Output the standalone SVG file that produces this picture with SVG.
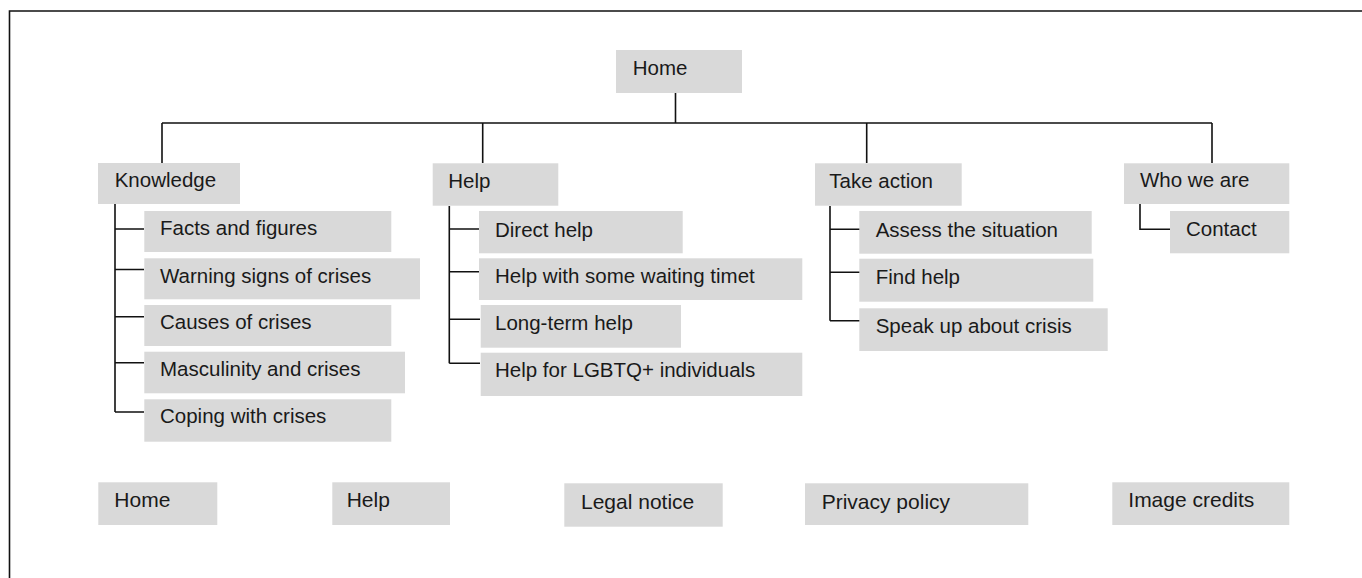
<svg xmlns="http://www.w3.org/2000/svg" width="1362" height="578" viewBox="0 0 1362 578">
<style>
.box{fill:#d9d9d9}
text{font-family:"Liberation Sans",Arial,sans-serif;font-size:20.5px;fill:#1a1a1a}
.ft{font-size:21px}
.ln{stroke:#111;stroke-width:1.6;fill:none}
</style>
<rect width="1362" height="578" fill="#fff"/>
<path class="ln" d="M9.5 578V11H1362"/>
<g id="connectors">
<path class="ln" d="M675.5 93V123M162 123H1212M162 123V163M482.7 123V163M866.7 123V163M1212 123V163"/>
<path class="ln" d="M115 204V412M115 229H144M115 269.5H144M115 316.7H144M115 362.7H144M115 412H144"/>
<path class="ln" d="M449.3 206V363.3M449.3 229H480M449.3 271.7H480M449.3 319.3H480M449.3 363.3H480"/>
<path class="ln" d="M830 206V320.7M830 229.3H860M830 272.3H860M830 320.7H860"/>
<path class="ln" d="M1140 204V229.3H1170"/>
</g>
<g id="home"><rect class="box" x="616" y="50" width="126" height="43"/><text x="632.7" y="75">Home</text></g>
<g id="knowledge"><rect class="box" x="98" y="163" width="142" height="41"/><text x="114.7" y="187">Knowledge</text></g>
<g id="facts"><rect class="box" x="144.3" y="211" width="247" height="41"/><text x="160" y="235">Facts and figures</text></g>
<g id="warning"><rect class="box" x="144.3" y="258.3" width="275.7" height="41"/><text x="160" y="282.7">Warning signs of crises</text></g>
<g id="causes"><rect class="box" x="144.3" y="305" width="247" height="41"/><text x="160" y="328.5">Causes of crises</text></g>
<g id="masculinity"><rect class="box" x="144.3" y="351.7" width="260.7" height="41.6"/><text x="160" y="376">Masculinity and crises</text></g>
<g id="coping"><rect class="box" x="144.3" y="399.3" width="247" height="42.4"/><text x="160" y="423">Coping with crises</text></g>
<g id="help"><rect class="box" x="432.7" y="163.3" width="125.6" height="42.4"/><text x="448.3" y="188">Help</text></g>
<g id="direct"><rect class="box" x="479" y="211" width="203.7" height="42.3"/><text x="495" y="236.7">Direct help</text></g>
<g id="waiting"><rect class="box" x="479" y="258.3" width="323.3" height="41.7"/><text x="495" y="282.7">Help with some waiting timet</text></g>
<g id="longterm"><rect class="box" x="480.7" y="305" width="200.3" height="42.7"/><text x="495" y="330">Long-term help</text></g>
<g id="lgbtq"><rect class="box" x="480.7" y="352.7" width="321.6" height="43.3"/><text x="495" y="377.3">Help for LGBTQ+ individuals</text></g>
<g id="takeaction"><rect class="box" x="815" y="163.3" width="146.7" height="42.4"/><text x="829.3" y="188.3">Take action</text></g>
<g id="assess"><rect class="box" x="859.3" y="211" width="232.4" height="42.7"/><text x="875.7" y="236.7">Assess the situation</text></g>
<g id="findhelp"><rect class="box" x="859.3" y="258.7" width="234" height="43"/><text x="875.7" y="284">Find help</text></g>
<g id="speakup"><rect class="box" x="859.3" y="308.3" width="248.4" height="42.7"/><text x="875.7" y="333.3">Speak up about crisis</text></g>
<g id="whoweare"><rect class="box" x="1124" y="163.3" width="165.3" height="40.7"/><text x="1140" y="186.7">Who we are</text></g>
<g id="contact"><rect class="box" x="1170" y="211" width="119.3" height="42.3"/><text x="1186" y="236">Contact</text></g>
<g id="f-home"><rect class="box" x="98.3" y="482.3" width="119" height="42.7"/><text class="ft" x="114.3" y="506.7">Home</text></g>
<g id="f-help"><rect class="box" x="332.3" y="482.3" width="117.7" height="42.7"/><text class="ft" x="346.7" y="506.7">Help</text></g>
<g id="f-legal"><rect class="box" x="564.3" y="483.3" width="158.4" height="43.4"/><text class="ft" x="581" y="509.3">Legal notice</text></g>
<g id="f-privacy"><rect class="box" x="805" y="483.3" width="223.3" height="41.7"/><text class="ft" x="821.7" y="509.3">Privacy policy</text></g>
<g id="f-credits"><rect class="box" x="1112.3" y="482.3" width="177" height="42.7"/><text class="ft" x="1128.3" y="507.3">Image credits</text></g>
</svg>
